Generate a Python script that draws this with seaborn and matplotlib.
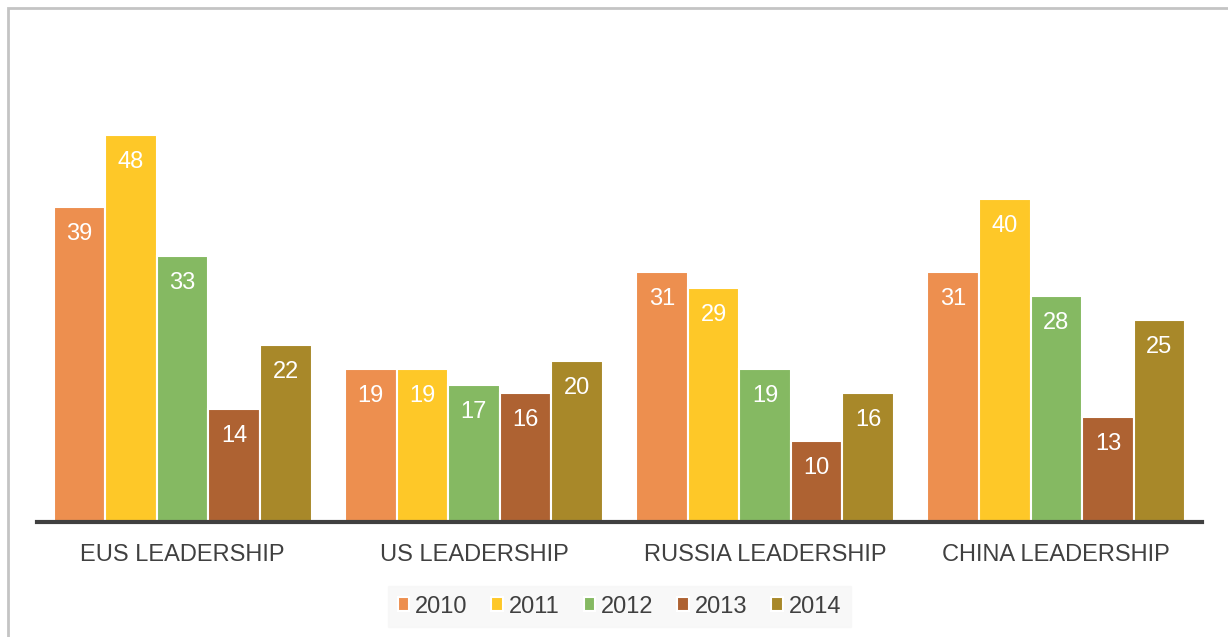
import matplotlib
matplotlib.use("Agg")
import matplotlib.pyplot as plt
from matplotlib.patches import Rectangle
import seaborn as sns
import pandas as pd

categories = ["EUS LEADERSHIP", "US LEADERSHIP", "RUSSIA LEADERSHIP", "CHINA LEADERSHIP"]
years = ["2010", "2011", "2012", "2013", "2014"]
v2010 = [39, 19, 31, 31]
v2011 = [48, 19, 29, 40]
v2012 = [33, 17, 19, 28]
v2013 = [14, 16, 10, 13]
v2014 = [22, 20, 16, 25]
colors = ["#ED8F4F", "#FEC828", "#85B962", "#AE6232", "#A88829"]

series = [v2010, v2011, v2012, v2013, v2014]
df = pd.DataFrame(
    [(c, y, vals[i]) for y, vals in zip(years, series) for i, c in enumerate(categories)],
    columns=["category", "year", "value"],
)

sns.set_theme(style="white")
plt.rcParams["font.family"] = ["Liberation Sans", "DejaVu Sans"]

fig = plt.figure(figsize=(12.28, 6.37), dpi=100)
ax = fig.add_axes([37 / 1228, 115 / 637, 1165 / 1228, (522 - 38) / 637])

sns.barplot(
    data=df, x="category", y="value", hue="year", order=categories,
    hue_order=years, palette=colors, width=0.885, ax=ax,
    edgecolor="white", linewidth=1.5, saturation=1,
)

ax.set_xlim(-0.5, 3.5)
ax.set_ylim(0, 60)
ax.set_xlabel("")
ax.set_ylabel("")
ax.set_yticks([])
for s in ["top", "right", "left"]:
    ax.spines[s].set_visible(False)
ax.spines["bottom"].set_color("#404040")
ax.spines["bottom"].set_linewidth(3)
ax.tick_params(axis="x", length=0, pad=16, labelsize=17, labelcolor="#404040")

# value labels just inside the top of each bar
for cont in ax.containers:
    for bar, v in zip(cont, cont.datavalues):
        ax.annotate(f"{v:.0f}", (bar.get_x() + bar.get_width() / 2, bar.get_height()),
                    xytext=(0, -19.5), textcoords="offset points",
                    ha="center", va="center", color="white", fontsize=17)

leg = ax.legend(
    loc="upper center", bbox_to_anchor=(0.5, -0.108), ncol=5, frameon=True,
    fontsize=17, handlelength=0.5, handleheight=0.5, handletextpad=0.25,
    columnspacing=1.0, borderpad=0.4,
)
leg.get_frame().set_facecolor("#f7f7f7")
leg.get_frame().set_edgecolor("#f7f7f7")
leg.get_frame().set_boxstyle("square", pad=0)
for t in leg.get_texts():
    t.set_color("#404040")

fig.patches.append(Rectangle((7.5 / 1228, -0.1), 1.2, (637 - 7.5) / 637 + 0.1,
                             transform=fig.transFigure, fill=False,
                             edgecolor="#c4c4c4", linewidth=2, zorder=0))

fig.savefig("out.png", dpi=100)
